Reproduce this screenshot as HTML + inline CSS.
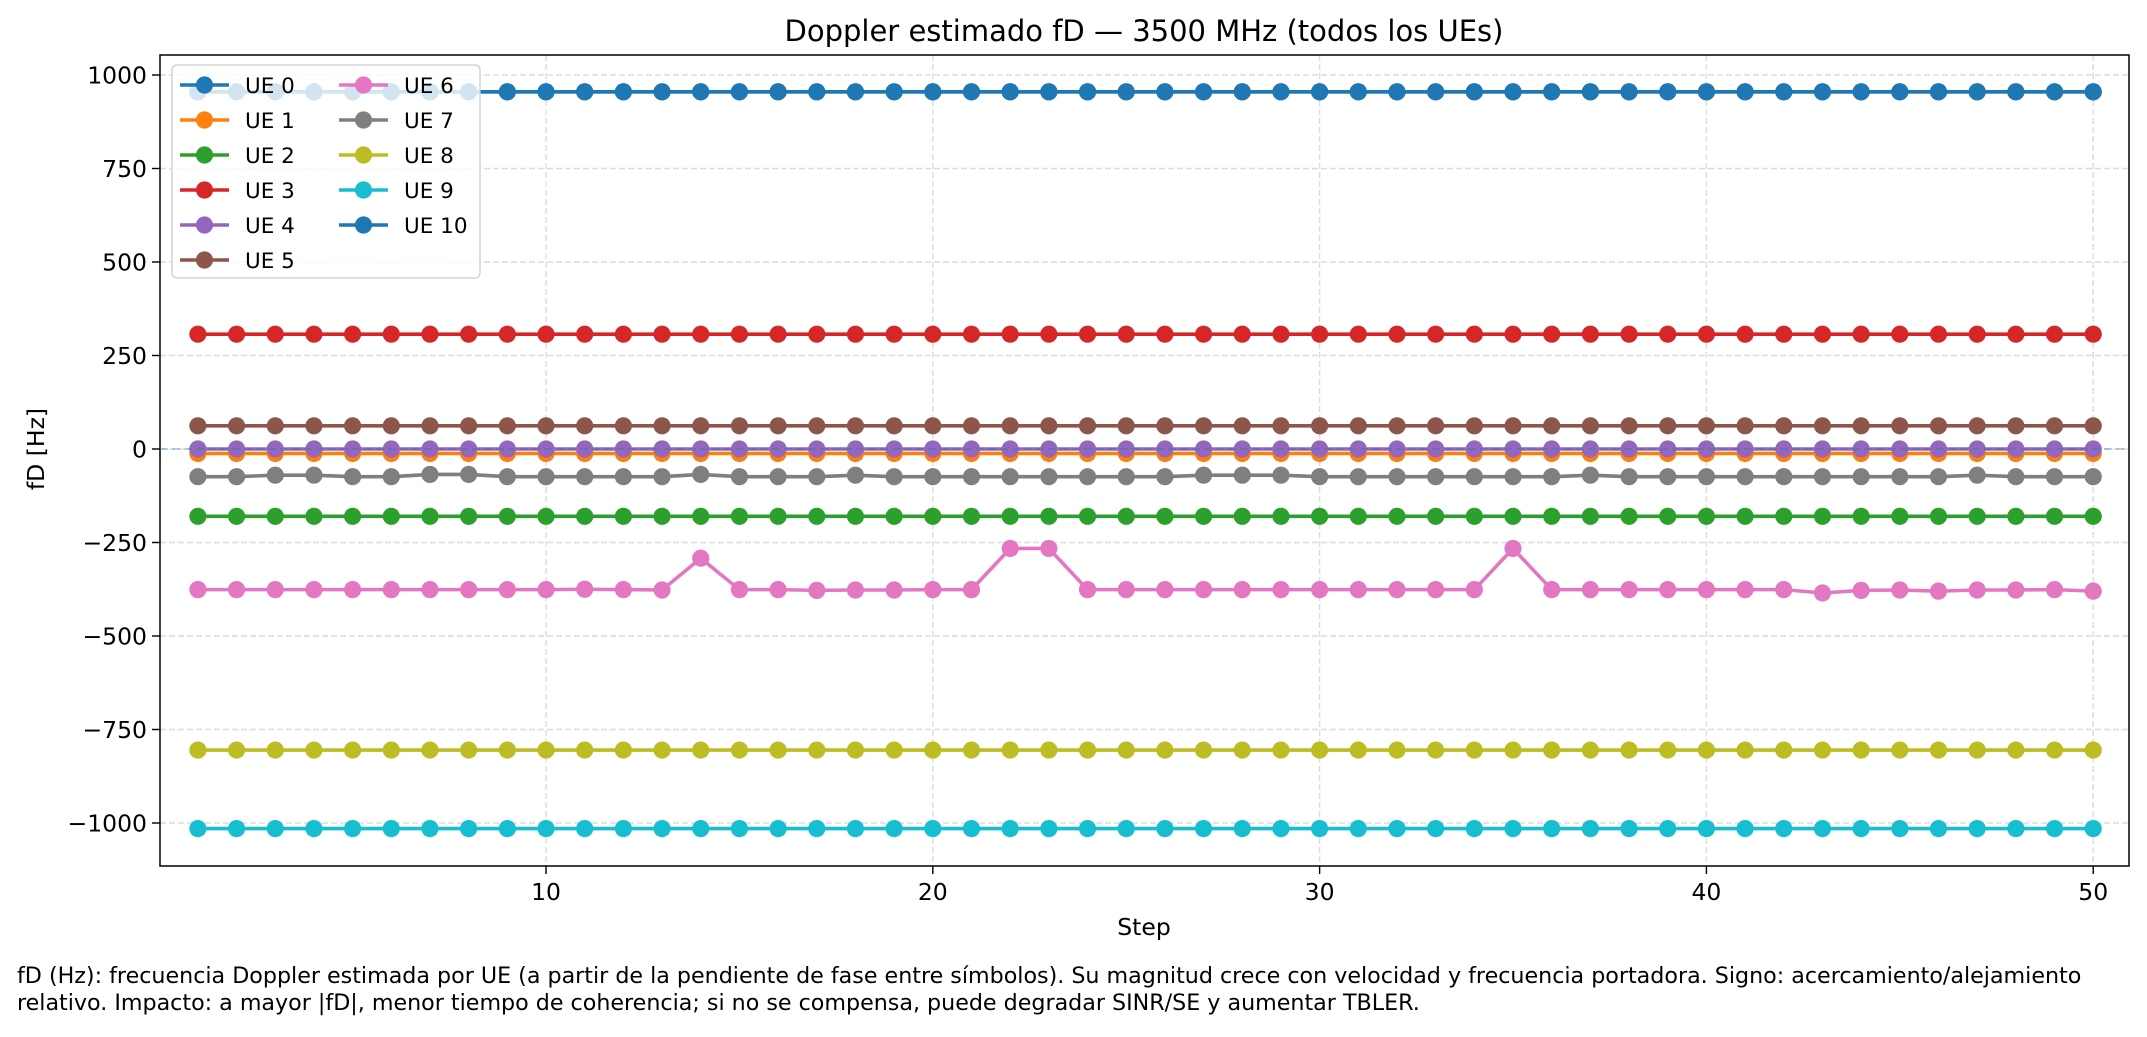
<!DOCTYPE html>
<html><head><meta charset="utf-8"><style>
body{margin:0;background:#fff}
svg text{font-family:"DejaVu Sans","Liberation Sans",sans-serif;fill:#000}
</style></head><body>
<svg id="chart" width="2147" height="1032" xmlns="http://www.w3.org/2000/svg">
<text x="1144" y="41" font-size="29" text-anchor="middle">Doppler estimado fD — 3500 MHz (todos los UEs)</text>
<g id="grid"></g>
<g id="axes"></g>
<g id="series"></g>
<g id="legend"></g>
<text x="1144" y="935" font-size="23.5" text-anchor="middle">Step</text>
<text transform="translate(44,449) rotate(-90)" font-size="23.5" text-anchor="middle">fD [Hz]</text>
<text x="17" y="983" font-size="22.2">fD (Hz): frecuencia Doppler estimada por UE (a partir de la pendiente de fase entre símbolos). Su magnitud crece con velocidad y frecuencia portadora. Signo: acercamiento/alejamiento</text>
<text x="17" y="1010" font-size="22.2">relativo. Impacto: a mayor |fD|, menor tiempo de coherencia; si no se compensa, puede degradar SINR/SE y aumentar TBLER.</text>
</svg>
<script>
const colors=['#1f77b4','#ff7f0e','#2ca02c','#d62728','#9467bd','#8c564b','#e377c2','#7f7f7f','#bcbd22','#17becf','#1f77b4'];
const labels=['UE 0','UE 1','UE 2','UE 3','UE 4','UE 5','UE 6','UE 7','UE 8','UE 9','UE 10'];
const xTicks=[10,20,30,40,50];
const yTicks=[1000,750,500,250,0,-250,-500,-750,-1000];
const yTickLabels=['1000','750','500','250','0','−250','−500','−750','−1000'];
const steps=Array.from({length:50},(_,i)=>i+1);
const ue0=Array(50).fill(955);
const ue1=Array(50).fill(-12);
const ue2=Array(50).fill(-180);
const ue3=Array(50).fill(307);
const ue4=Array(50).fill(0);
const ue5=Array(50).fill(62);
const ue6=[-376,-376,-376,-376,-376,-376,-376,-376,-376,-376,-375,-376,-377,-292,-376,-376,-378,-377,-377,-376,-376,-266,-266,-376,-376,-376,-376,-376,-376,-376,-376,-376,-376,-376,-266,-376,-376,-376,-376,-376,-376,-376,-385,-378,-377,-380,-377,-377,-376,-380];
const ue7=[-74,-74,-70,-70,-74,-74,-68,-68,-74,-74,-74,-74,-74,-68,-74,-74,-74,-70,-74,-74,-74,-74,-74,-74,-74,-74,-70,-70,-70,-74,-74,-74,-74,-74,-74,-74,-70,-74,-74,-74,-74,-74,-74,-74,-74,-74,-70,-74,-74,-74];
const ue8=Array(50).fill(-805);
const ue9=Array(50).fill(-1015);
const ue10=Array(50).fill(955);
const series=[ue0,ue1,ue2,ue3,ue4,ue5,ue6,ue7,ue8,ue9,ue10];
const L=160,R=2129,T=55,B=866;
const xs=v=>197.9+(v-1)*38.68;
const ys=v=>449-v*0.374;
const NS='http://www.w3.org/2000/svg';
function mk(tag,attrs,parent){const e=document.createElementNS(NS,tag);for(const k in attrs)e.setAttribute(k,attrs[k]);parent.appendChild(e);return e;}
const grid=document.getElementById('grid'),axes=document.getElementById('axes'),ser=document.getElementById('series'),leg=document.getElementById('legend');
xTicks.forEach(t=>{
  const g=mk('line',{x1:xs(t),x2:xs(t),y1:T,y2:B,stroke:'#dcdcdc','stroke-width':1.4,'stroke-dasharray':'6,3'},grid);
  
  
  mk('line',{x1:xs(t),x2:xs(t),y1:B,y2:B+8,stroke:'#000','stroke-width':1.4},axes);
  const tx=mk('text',{x:xs(t),y:B+34,'font-size':23.5,'text-anchor':'middle'},axes);tx.textContent=t;
  
  
});
yTicks.forEach((t,i)=>{
  const g=mk('line',{x1:L,x2:R,y1:ys(t),y2:ys(t),stroke:'#dcdcdc','stroke-width':1.4,'stroke-dasharray':'6,3'},grid);
  
  
  mk('line',{x1:L-8,x2:L,y1:ys(t),y2:ys(t),stroke:'#000','stroke-width':1.4},axes);
  const tx=mk('text',{x:L-13,y:ys(t)+8.5,'font-size':23.5,'text-anchor':'end'},axes);tx.textContent=yTickLabels[i];
  
  
});
series.forEach((d,s)=>{
  const g=mk('g',{},ser);
  
  
  mk('polyline',{points:d.map((v,i)=>xs(steps[i])+','+ys(v)).join(' '),fill:'none',stroke:colors[s],'stroke-width':3.6},g);
  d.forEach((v,i)=>{const c=mk('circle',{cx:xs(steps[i]),cy:ys(v),r:8.6,fill:colors[s]},g);
    
    });
});
const zl2=mk('line',{x1:L,x2:R,y1:ys(0),y2:ys(0),stroke:'#1f77b4','stroke-opacity':0.45,'stroke-width':1.5,'stroke-dasharray':'8,4'},ser);


mk('rect',{x:L,y:T,width:R-L,height:B-T,fill:'none',stroke:'#000','stroke-width':1.5},axes);
const box=mk('rect',{x:172,y:65,width:308,height:213,rx:5,fill:'#fff','fill-opacity':0.8,stroke:'#ccc','stroke-width':1.3},leg);


labels.forEach((lab,i)=>{
  const col=i<6?0:1,row=i<6?i:i-6;
  const x0=col?339:180,y=85+row*35;
  const g=mk('g',{},leg);
  
  
  mk('line',{x1:x0,x2:x0+49,y1:y,y2:y,stroke:colors[i],'stroke-width':3.6},g);
  mk('circle',{cx:x0+24.5,cy:y,r:8.6,fill:colors[i]},g);
  const t=mk('text',{x:x0+65,y:y+8,'font-size':21.5},g);t.textContent=lab;
});
</script>
</body></html>
